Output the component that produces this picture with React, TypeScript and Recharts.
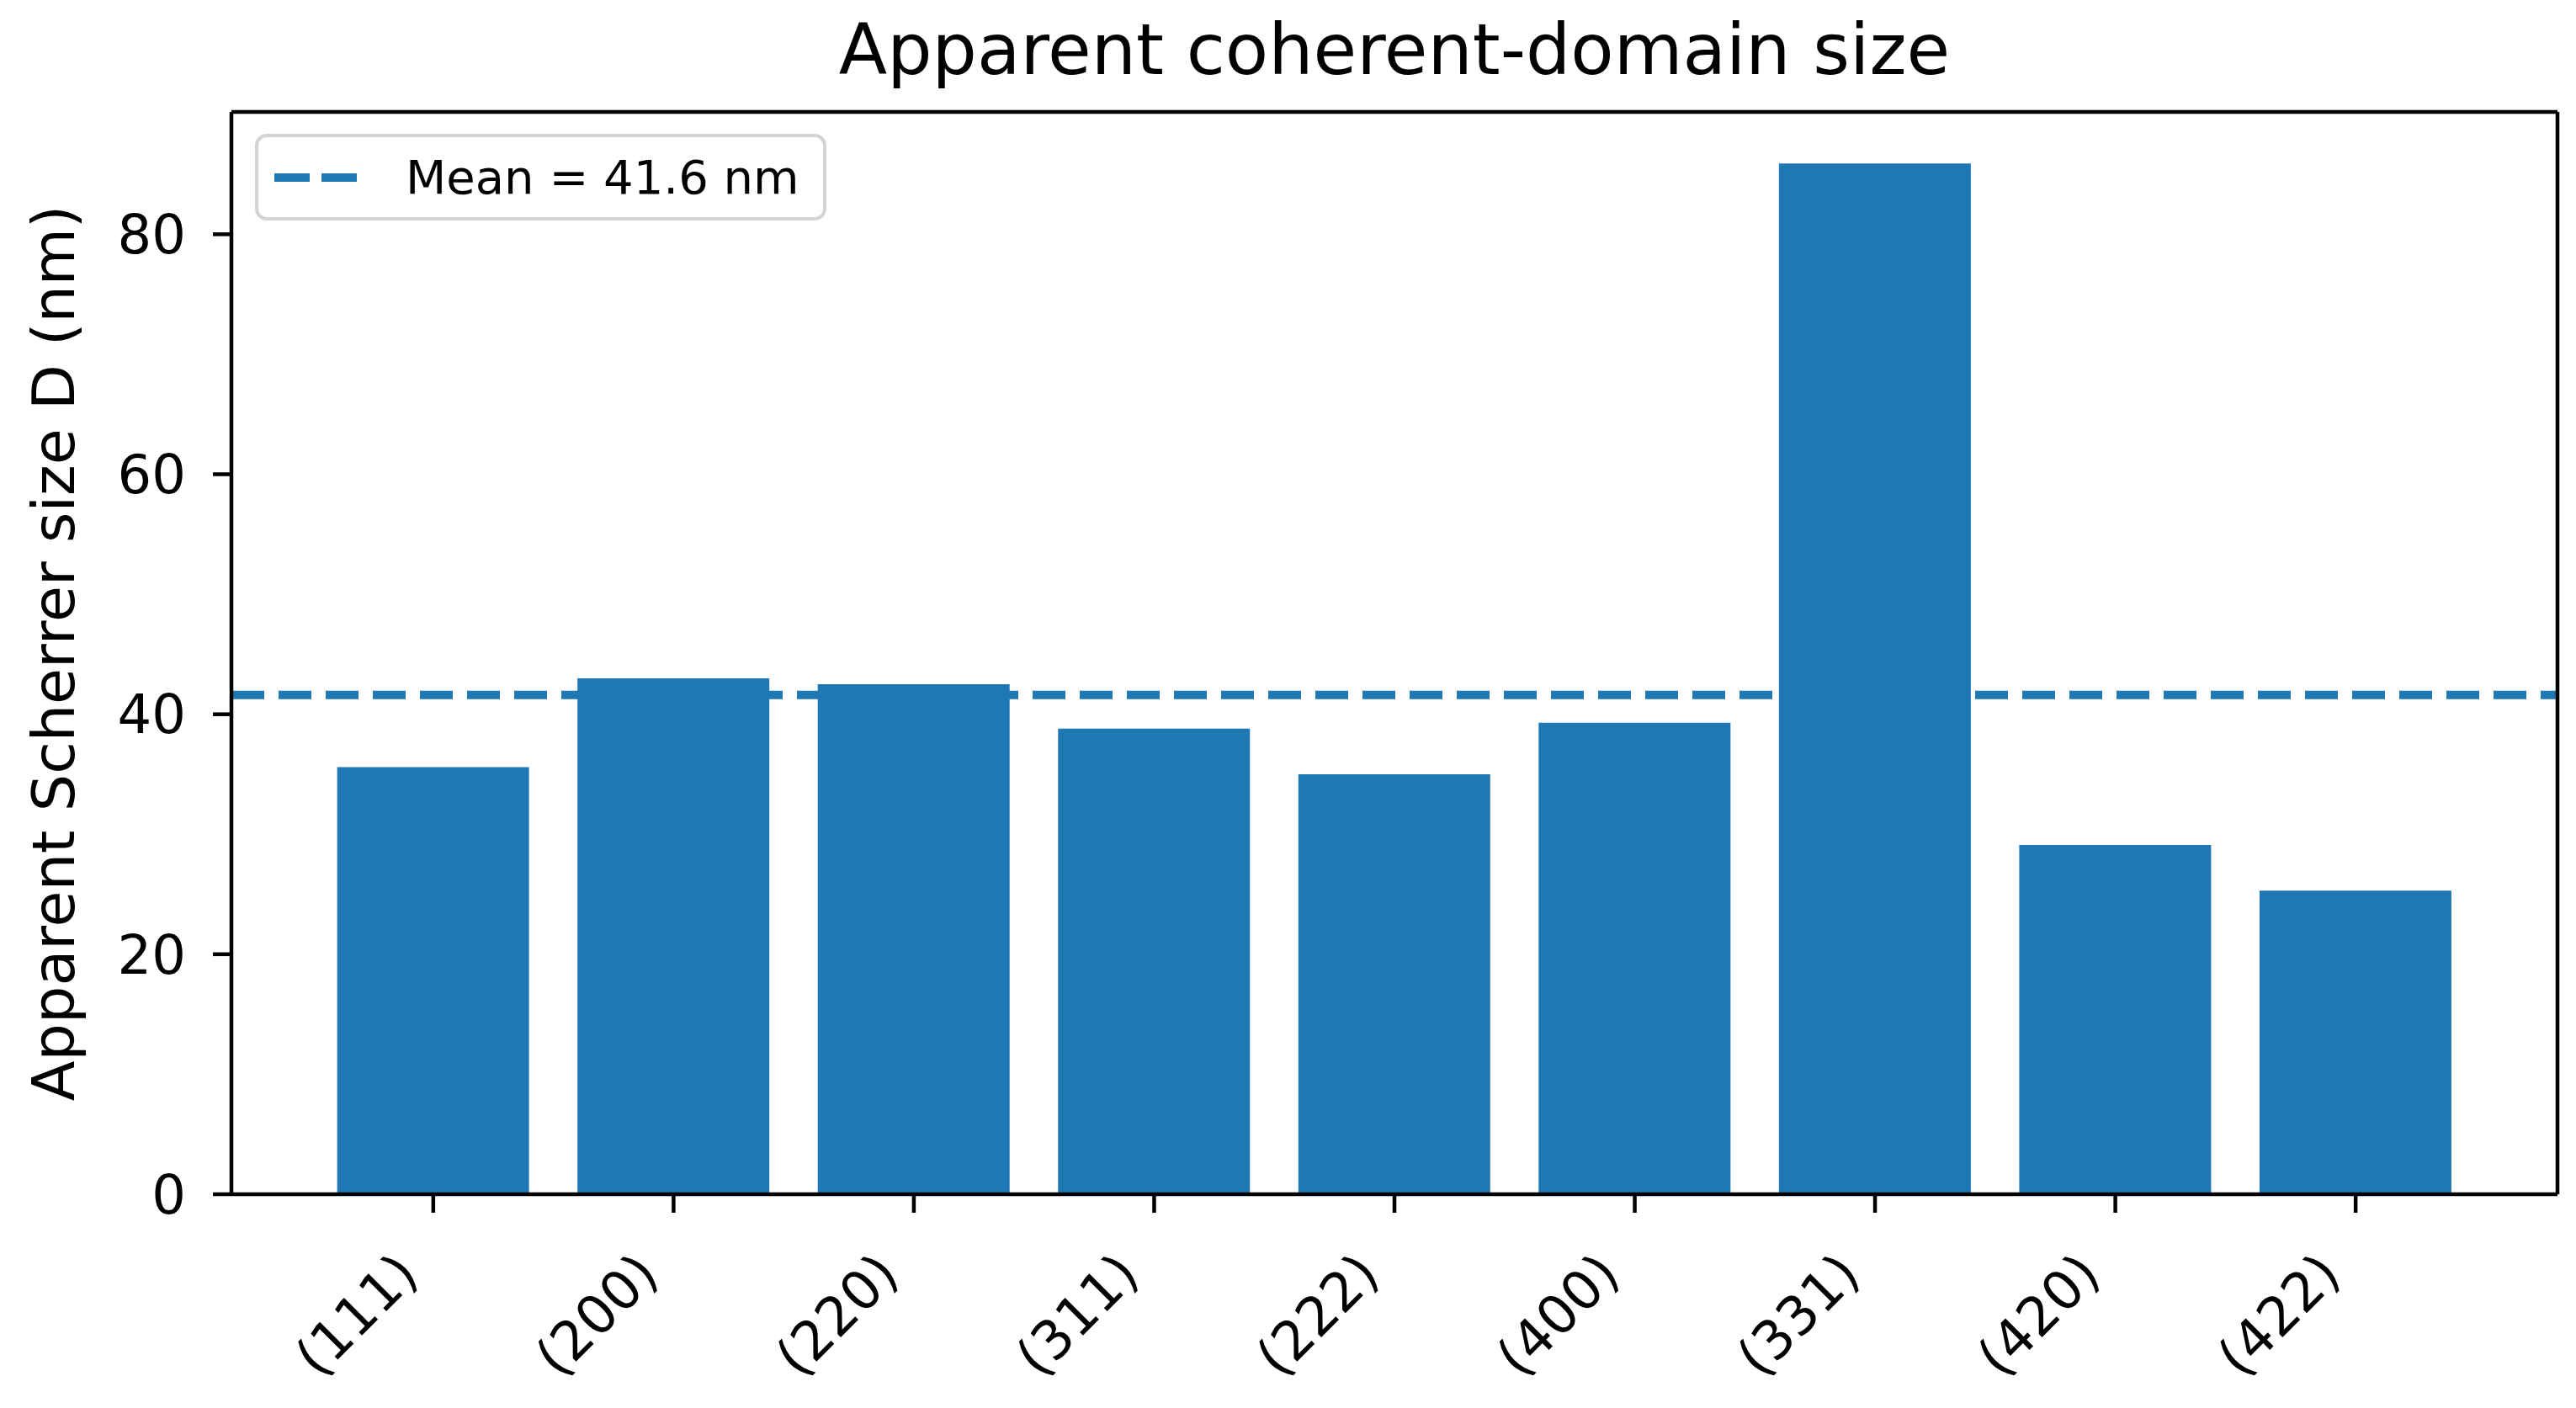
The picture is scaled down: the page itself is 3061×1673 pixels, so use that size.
import React from 'react';
import { BarChart, Bar, XAxis, YAxis, ReferenceLine, Legend } from 'recharts';

const planes = ['(111)', '(200)', '(220)', '(311)', '(222)', '(400)', '(331)', '(420)', '(422)'];
const sizes = [35.6, 43.0, 42.5, 38.8, 35.0, 39.3, 85.9, 29.1, 25.3];
const yTicks = [0, 20, 40, 60, 80];
const MEAN_SIZE = 41.6;

// bars sit at integer positions, like a matplotlib categorical bar chart
const positions = planes.map((_, i) => i);
const data = planes.map((plane, i) => ({ pos: positions[i], plane, size: sizes[i] }));
const xDomain = [-0.84, planes.length - 1 + 0.84];

const BLUE = '#1f77b4';
const W = 3061;
const H = 1673;

function XTick({ x, y, payload }: any) {
  return (
    <g transform={`translate(${x - 15},${y + 68})`}>
      <text x={0} y={0} transform="rotate(-45)" textAnchor="end" fontSize={64} fill="#000">
        {planes[payload.value]}
      </text>
    </g>
  );
}

function YLabel({ viewBox }: any) {
  const cx = viewBox.x + 13;
  const cy = viewBox.y + viewBox.height / 2;
  return (
    <text x={cx} y={cy} transform={`rotate(-90, ${cx}, ${cy})`} textAnchor="middle" fontSize={70} fill="#000">
      Apparent Scherrer size D (nm)
    </text>
  );
}

// draw the mean line left to right so the dash pattern starts at the y axis
function MeanLine(props: any) {
  const { x1, x2, y1 } = props;
  return (
    <line
      x1={Math.min(x1, x2)}
      x2={Math.max(x1, x2)}
      y1={y1}
      y2={y1}
      stroke={BLUE}
      strokeWidth={10}
      strokeDasharray="39 17"
    />
  );
}

function MeanLegend() {
  return (
    <div
      style={{
        boxSizing: 'border-box',
        width: 679,
        height: 103,
        border: '4px solid #d4d4d4',
        borderRadius: 14,
        background: 'rgba(255,255,255,0.8)',
        display: 'flex',
        alignItems: 'center',
      }}
    >
      <svg width={98} height={12} style={{ marginLeft: 19 }}>
        <line x1={0} y1={6} x2={98} y2={6} stroke={BLUE} strokeWidth={10} strokeDasharray="42 14" />
      </svg>
      <span style={{ marginLeft: 58, fontSize: 56, color: '#000', lineHeight: 1 }}>
        {`Mean = ${MEAN_SIZE.toFixed(1)} nm`}
      </span>
    </div>
  );
}

export default function App() {
  return (
    <div style={{ position: 'relative', width: W, height: H, fontFamily: '"DejaVu Sans", sans-serif', background: '#fff' }}>
      <style>{'body{margin:0;}'}</style>
      <svg width={W} height={H} style={{ position: 'absolute', left: 0, top: 0, pointerEvents: 'none' }}>
        <text x={1657} y={88} textAnchor="middle" fontSize={84} fill="#000">
          Apparent coherent-domain size
        </text>
      </svg>
      <BarChart
        width={W}
        height={H}
        data={data}
        margin={{ top: 132, right: 21, bottom: 54, left: 75 }}
        barCategoryGap="10%"
      >
        <XAxis
          dataKey="pos"
          type="number"
          domain={xDomain}
          ticks={positions}
          interval={0}
          height={200}
          tickSize={22}
          tickMargin={8}
          tickLine={{ stroke: '#000', strokeWidth: 4.5 }}
          axisLine={{ stroke: '#000', strokeWidth: 4.5 }}
          tick={<XTick />}
        />
        <XAxis
          xAxisId="top"
          orientation="top"
          dataKey="pos"
          type="number"
          domain={xDomain}
          height={1}
          tick={false}
          tickLine={false}
          axisLine={{ stroke: '#000', strokeWidth: 4.5 }}
        />
        <YAxis
          width={200}
          domain={[0, (max: number) => max * 1.05]}
          ticks={yTicks}
          tickSize={22}
          tickMargin={32}
          tickLine={{ stroke: '#000', strokeWidth: 4.5 }}
          axisLine={{ stroke: '#000', strokeWidth: 4.5 }}
          tick={{ fill: '#000', fontSize: 64 }}
          label={<YLabel />}
        />
        <YAxis
          yAxisId="right"
          orientation="right"
          width={1}
          domain={[0, (max: number) => max * 1.05]}
          tick={false}
          tickLine={false}
          axisLine={{ stroke: '#000', strokeWidth: 4.5 }}
        />
        <Bar dataKey="size" fill={BLUE} isAnimationActive={false} />
        <ReferenceLine
          segment={[
            { x: xDomain[0], y: MEAN_SIZE },
            { x: xDomain[1], y: MEAN_SIZE },
          ]}
          ifOverflow="visible"
          shape={MeanLine}
        />
        <Legend
          layout="vertical"
          align="center"
          verticalAlign="middle"
          wrapperStyle={{ top: 159, left: 303, width: 'auto' }}
          content={() => <MeanLegend />}
        />
      </BarChart>
    </div>
  );
}
